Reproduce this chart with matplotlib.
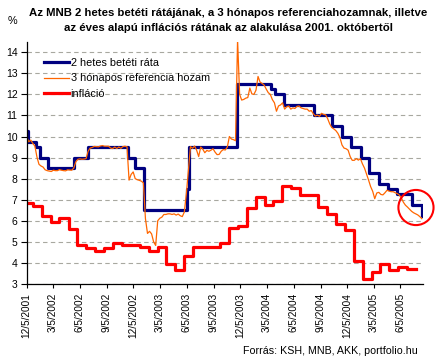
"""
MNB 2 hetes betéti ráta, 3 hónapos referenciahozam és infláció, 2001-2005
"""

# %% Import dependencies
import pandas as pd
import matplotlib
matplotlib.use('Agg')
import matplotlib.pyplot as plt

plt.rcParams['font.family'] = ['Liberation Sans', 'DejaVu Sans']

# %% Data
# MNB 2 hetes betéti ráta: date of change -> new rate
base_dates = ['2001-12-05', '2001-12-09', '2002-01-06', '2002-01-20', '2002-02-17',
              '2002-05-16', '2002-07-03', '2002-11-15', '2002-12-12', '2003-01-11',
              '2003-06-05', '2003-06-13', '2003-11-23', '2004-03-19', '2004-04-02',
              '2004-05-02', '2004-08-13', '2004-10-13', '2004-11-18', '2004-12-18',
              '2005-01-21', '2005-02-17', '2005-03-25', '2005-04-22', '2005-05-23',
              '2005-07-14', '2005-08-19']
base_rate = [10.25, 9.75, 9.5, 9.0, 8.5,
             9.0, 9.5, 9.0, 8.5, 6.5,
             7.5, 9.5, 12.5, 12.25, 12.0,
             11.5, 11.0, 10.5, 10.0, 9.5,
             9.0, 8.25, 7.75, 7.5, 7.25,
             6.75, 6.25]

# 3 hónapos referenciahozam, weekly from 2001-12-05
ref_start = '2001-12-05'
ref_3m = [
    9.98, 9.75, 9.83, 9.67, 9.55, 9.03, 8.68, 8.60, 8.55, 8.42,
    8.38, 8.36, 8.34, 8.40, 8.38, 8.38, 8.43, 8.40, 8.38, 8.37,
    8.42, 8.41, 8.40, 8.50, 8.80, 8.92, 8.94, 8.92, 8.93, 8.95,
    9.30, 9.45, 9.48, 9.53, 9.52, 9.51, 9.55, 9.57, 9.54, 9.54,
    9.54, 9.45, 9.43, 9.50, 9.43, 9.50, 9.44, 9.52, 9.54, 9.51,
    7.93, 8.20, 8.32, 8.00, 7.95, 7.92, 7.88, 7.80, 6.10, 5.40,
    5.50, 5.38, 5.00, 4.83, 6.00, 6.12, 6.17, 6.30, 6.30, 6.33,
    6.33, 6.30, 6.33, 6.27, 6.32, 6.24, 6.20, 6.42, 7.30, 8.40,
    9.52, 9.44, 9.55, 9.35, 9.05, 9.50, 9.40, 9.23, 9.34, 9.30,
    9.35, 9.42, 9.26, 9.14, 9.15, 9.30, 9.38, 9.36, 9.50, 10.00,
    9.88, 9.85, 9.80, 14.60, 12.00, 11.73, 11.76, 11.82, 11.85, 12.30,
    12.02, 12.00, 12.20, 12.85, 12.58, 12.52, 12.44, 12.25, 12.08, 12.00,
    11.75, 11.60, 11.20, 11.45, 11.50, 11.60, 11.30, 11.41, 11.45, 11.30,
    11.36, 11.33, 11.43, 11.45, 11.36, 11.33, 11.30, 11.30, 11.20, 11.23,
    11.08, 10.97, 11.02, 10.96, 11.10, 11.05, 11.03, 10.85, 10.60, 10.43,
    10.36, 10.28, 10.15, 9.95, 9.60, 9.45, 9.42, 9.35, 9.05, 8.87,
    8.87, 8.95, 8.88, 8.95, 8.70, 8.50, 8.22, 7.93, 7.62, 7.40,
    7.05, 7.32, 7.35, 7.25, 7.23, 7.33, 7.45, 7.41, 7.38, 7.38,
    7.33, 7.29, 7.22, 7.08, 6.88, 6.74, 6.65, 6.55, 6.45, 6.38,
    6.33, 6.28, 6.20, 6.10]

# infláció (éves), monthly
infl_start = '2001-11-27'
inflation = [6.84, 6.68, 6.22, 5.94, 6.14, 5.63, 4.84, 4.69, 4.58, 4.69,
             4.96, 4.85, 4.85, 4.77, 4.58, 4.77, 3.95, 3.66, 4.33, 4.77,
             4.77, 4.77, 4.96, 5.65, 5.76, 6.62, 7.13, 6.75, 6.94, 7.65,
             7.56, 7.22, 7.22, 6.65, 6.33, 5.84, 5.56, 4.11, 3.22, 3.57,
             3.94, 3.65, 3.83, 3.73]

x_start, x_end = '2001-12-05', '2005-08-20'
tick_start, tick_end = '2001-12-05', '2005-06-05'

title_1 = 'Az MNB 2 hetes betéti rátájának, a 3 hónapos referenciahozamnak, illetve'
title_2 = 'az éves alapú inflációs rátának az alakulása 2001. októbertől'
source = 'Forrás: KSH, MNB, AKK, portfolio.hu'

# highlighted point (red circle)
highlight_date, highlight_value = '2005-07-28', 6.63

# %% Build series
x0, x1 = pd.Timestamp(x_start), pd.Timestamp(x_end)

base = pd.Series(base_rate, index=pd.to_datetime(base_dates))
base[x1] = base.iloc[-1]

ref = pd.Series(ref_3m, index=pd.date_range(ref_start, periods=len(ref_3m), freq='7D'))

infl_idx = pd.date_range(infl_start, periods=len(inflation), freq=pd.DateOffset(months=1))
infl = pd.Series(inflation, index=infl_idx)
infl[infl_idx[-1] + pd.DateOffset(months=1)] = infl.iloc[-1]

ticks = pd.date_range(tick_start, tick_end, freq=pd.DateOffset(months=3))
tick_labels = [f'{d.month}/{d.day}/{d.year}' for d in ticks]

# %% Plot
W, H = 439, 363
fig = plt.figure(figsize=(W / 100, H / 100), dpi=100)
ax = fig.add_axes([26.7 / W, 1 - 284 / H, 396 / W, 242.3 / H])

ax.plot(base.index, base.values, drawstyle='steps-post', color='#000080',
        lw=2.3, label='2 hetes betéti ráta')
ax.plot(ref.index, ref.values, color='#FF6600', lw=0.9,
        label='3 hónapos referencia hozam')
ax.plot(infl.index, infl.values, drawstyle='steps-post', color='#FF0000',
        lw=2.3, label='infláció')

ax.scatter([pd.Timestamp(highlight_date)], [highlight_value], s=640,
           facecolors='none', edgecolors='#FF0000', linewidths=1.5,
           clip_on=False, zorder=5)

ax.set_xlim(x0, x1)
ax.set_ylim(3, 14.5)
ax.set_yticks(range(3, 15))
ax.set_xticks(ticks)
ax.set_xticklabels(tick_labels, rotation=90)

ax.yaxis.grid(True, ls=(0, (4, 3)), color='#A8A8A0', lw=0.8)
ax.set_axisbelow(True)
for s in ['top', 'right']:
    ax.spines[s].set_visible(False)
for s in ['left', 'bottom']:
    ax.spines[s].set_linewidth(0.9)
ax.tick_params(axis='y', length=4, width=0.8, pad=2.5, labelsize=7.5)
ax.tick_params(axis='x', length=3, width=0.8, pad=3.5, labelsize=7.2)

ax.legend(loc='upper left', bbox_to_anchor=(44 / W, 1 - 58 / H),
          bbox_transform=fig.transFigure, frameon=False, fontsize=7.8,
          handlelength=2.3, handletextpad=0.15, labelspacing=0.5,
          borderpad=0, borderaxespad=0)

fig.text(228.5 / W, 1 - 12.7 / H, title_1, ha='center', va='center',
         fontsize=8.2, fontweight='bold')
fig.text(229 / W, 1 - 27.7 / H, title_2, ha='center', va='center',
         fontsize=8.2, fontweight='bold')
fig.text(12.5 / W, 1 - 21 / H, '%', ha='center', va='center', fontsize=7.8)
fig.text(418 / W, 1 - 351 / H, source, ha='right', va='center', fontsize=7.7)

fig.savefig('out.png', dpi=100)
